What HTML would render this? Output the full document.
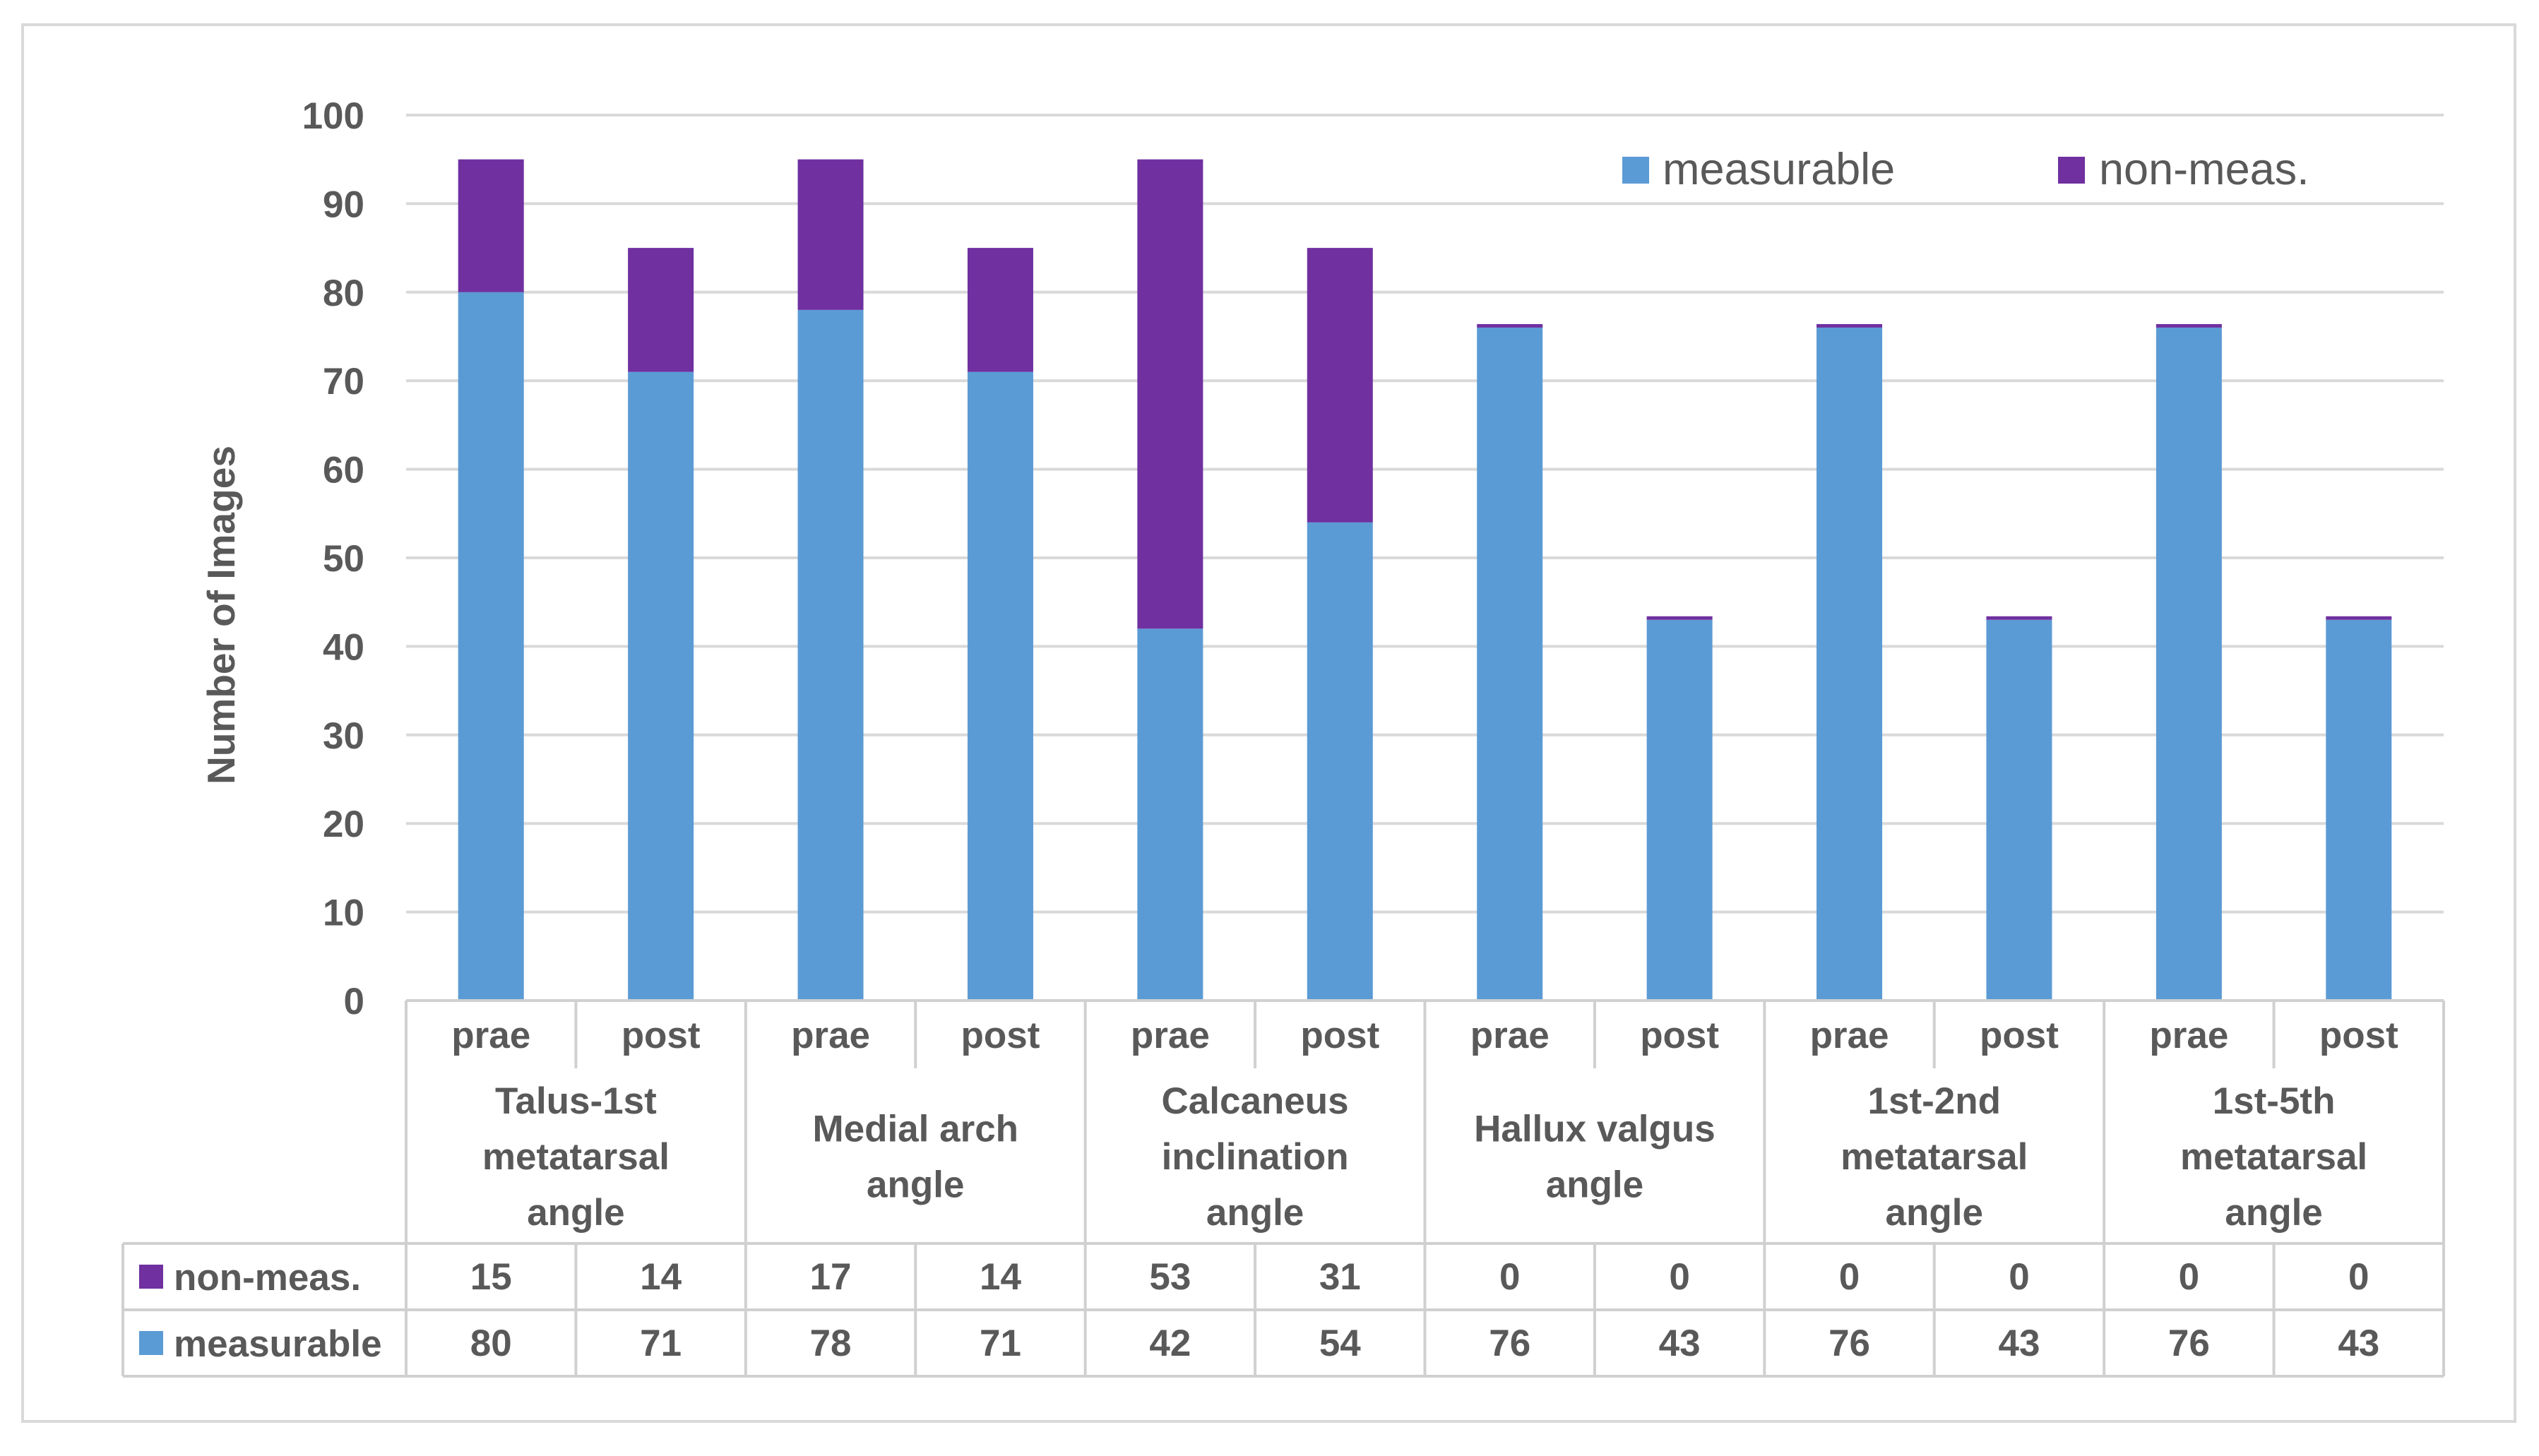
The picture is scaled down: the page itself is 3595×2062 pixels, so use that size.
<!DOCTYPE html>
<html><head><meta charset="utf-8"><style>
html,body{margin:0;padding:0;background:#fff;}
svg{display:block;font-family:"Liberation Sans",sans-serif;}
</style></head><body>
<svg id="chart" width="3595" height="2062" viewBox="0 0 3595 2062" xmlns="http://www.w3.org/2000/svg">
<rect x="32" y="35" width="3529" height="1978" fill="#fff" stroke="#d9d9d9" stroke-width="4"/>
<g id="grid"></g><g id="bars"></g><g id="table"></g>
<text transform="translate(332,871) rotate(-90)" text-anchor="middle" font-size="55" font-weight="bold" fill="#595959">Number of Images</text>
<g>
<rect x="2297" y="222" width="38" height="38" fill="#5B9BD5"/>
<text x="2354" y="261" font-size="63" fill="#595959">measurable</text>
<rect x="2914" y="222" width="38" height="38" fill="#7030A0"/>
<text x="2972" y="261" font-size="63" fill="#595959">non-meas.</text>
</g>
</svg>
<script>
const categories = ["prae","post","prae","post","prae","post","prae","post","prae","post","prae","post"];
const groups = [["Talus-1st","metatarsal","angle"],["Medial arch","angle"],["Calcaneus","inclination","angle"],["Hallux valgus","angle"],["1st-2nd","metatarsal","angle"],["1st-5th","metatarsal","angle"]];
const measurable = [80,71,78,71,42,54,76,43,76,43,76,43];
const nonMeas = [15,14,17,14,53,31,0,0,0,0,0,0];
const yTicks = [0,10,20,30,40,50,60,70,80,90,100];

const NS="http://www.w3.org/2000/svg";
const X0=575, X1=3460, Y0=1417, Y1=163, YMAX=100;
const cw=(X1-X0)/categories.length, bw=93;
const y=v=>Y0-(v/YMAX)*(Y0-Y1);
const xc=i=>X0+cw*(i+0.5);
function mk(tag,attrs,parent,text){const e=document.createElementNS(NS,tag);for(const k in attrs)e.setAttribute(k,attrs[k]);if(text!==undefined)e.textContent=text;parent.appendChild(e);return e;}
const grid=document.getElementById('grid'),bars=document.getElementById('bars'),table=document.getElementById('table');
yTicks.forEach(t=>{
  if(t>0){const l=mk('line',{x1:X0,x2:X1,y1:y(t),y2:y(t),stroke:'#d9d9d9','stroke-width':4},grid);
  
  }
  const tx=mk('text',{x:516,y:y(t)+19,'text-anchor':'end','font-size':53,'font-weight':'bold',fill:'#595959'},grid,String(t));
  
  
});
categories.forEach((c,i)=>{
  const m=measurable[i], n=nonMeas[i];
  const b=mk('rect',{x:xc(i)-bw/2,y:y(m),width:bw,height:Y0-y(m),fill:'#5B9BD5'},bars);
  
  
  const h=Math.max(y(m)-y(m+n),5);
  const p=mk('rect',{x:xc(i)-bw/2,y:y(m)-h,width:bw,height:h,fill:'#7030A0'},bars);
  
  
});
const TL=174, R1=1513, R2=1761, R3=1855, R4=1949, lc='#d0d0d0';
const hl=[[X0,Y0],[TL,R2],[TL,R3],[TL,R4]];
hl.forEach(([x1,yy],k)=>{const l=mk('line',{x1:x1,x2:X1,y1:yy,y2:yy,stroke:lc,'stroke-width':4},table);
  
  });
for(let i=0;i<=categories.length;i++){
  const x=X0+cw*i;
  const bot=(i%2===0)?R4:R1;
  const l1=mk('line',{x1:x,x2:x,y1:Y0,y2:bot,stroke:lc,'stroke-width':4},table);
  
  
  if(i%2===1){const l2=mk('line',{x1:x,x2:x,y1:R2,y2:R4,stroke:lc,'stroke-width':4},table);
    
    }
}
const lt=mk('line',{x1:TL,x2:TL,y1:R2,y2:R4,stroke:lc,'stroke-width':4},table);


categories.forEach((c,i)=>{
  const t=mk('text',{x:xc(i),y:1484,'text-anchor':'middle','font-size':53,'font-weight':'bold',fill:'#595959'},table,c);
  
  
  const a=mk('text',{x:xc(i),y:1826,'text-anchor':'middle','font-size':53,'font-weight':'bold',fill:'#595959'},table,String(nonMeas[i]));
  
  
  const b=mk('text',{x:xc(i),y:1920,'text-anchor':'middle','font-size':53,'font-weight':'bold',fill:'#595959'},table,String(measurable[i]));
  
  
});
groups.forEach((g,k)=>{
  const cx=X0+cw*(2*k+1), lh=79, mid=1637;
  const start=mid-(g.length-1)*lh/2;
  g.forEach((line,j)=>{const t=mk('text',{x:cx,y:start+j*lh+19,'text-anchor':'middle','font-size':53,'font-weight':'bold',fill:'#595959'},table,line);
    
    });
});
[['non-meas.','#7030A0',1808],['measurable','#5B9BD5',1902]].forEach(([lab,col,cy],k)=>{
  const s=mk('rect',{x:197,y:cy-17,width:34,height:34,fill:col},table);
  
  
  const t=mk('text',{x:246,y:cy+19,'font-size':53,'font-weight':'bold',fill:'#595959'},table,lab);
  
  
});
</script>
</body></html>
